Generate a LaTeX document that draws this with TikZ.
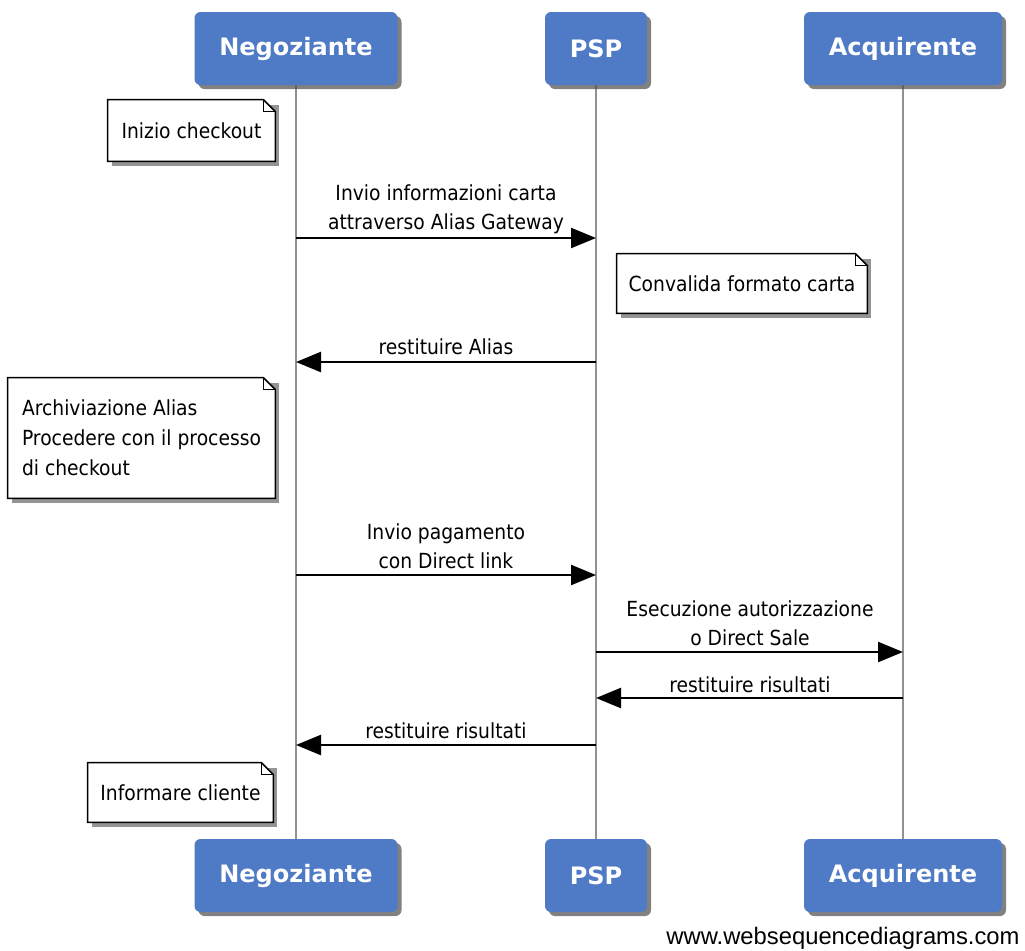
\documentclass[tikz,border=0pt]{standalone}
\usepackage{fontspec}
\setmainfont{DejaVu Sans}[FakeStretch=0.9]
\newfontfamily\headfont{DejaVu Sans}
\newfontfamily\wsdfont{Liberation Sans}
\usetikzlibrary{arrows.meta, shadows, backgrounds}
\definecolor{actorBlue}{RGB}{79,122,198}
\definecolor{lifeGray}{RGB}{145,145,145}
\tikzstyle{fActor} = [rectangle, rounded corners=3pt, minimum height=36.5pt, fill=actorBlue, text=white, font=\headfont\bfseries\fontsize{12}{14}\selectfont, drop shadow={shadow xshift=2pt, shadow yshift=-2pt, opacity=0.7, fill=black!70}]
\tikzstyle{fNote} = [rectangle, font=\fontsize{10.4}{15}\selectfont, align=left, inner sep=0pt]
\tikzstyle{fLabel} = [font=\fontsize{10.4}{14.5}\selectfont, align=center, inner sep=0pt]
\tikzstyle{fMsg} = [line width=1.2pt, -{Triangle[length=12.5pt, width=10pt]}]
\tikzstyle{fLife} = [line width=1pt, draw=lifeGray]

\begin{document}
\begin{tikzpicture}[x=0.5pt, y=-0.5pt]
    \useasboundingbox (0,0) rectangle (1025,950);

    \node (hNeg) [fActor, minimum width=101.5pt] at (296,48.5) {Negoziante};
    \node (hPSP) [fActor, minimum width=51pt] at (596,48.5) {PSP};
    \node (hAcq) [fActor, minimum width=99pt] at (903,48.5) {Acquirente};
    \node (fNeg) [fActor, minimum width=101.5pt] at (296,875.5) {Negoziante};
    \node (fPSP) [fActor, minimum width=51pt] at (596,875.5) {PSP};
    \node (fAcq) [fActor, minimum width=99pt] at (903,875.5) {Acquirente};

    \node (nStart) [fNote, minimum width=83.5pt, minimum height=30.5pt] at (191.5,130.5) {Inizio checkout};
    \node (nCheck) [fNote, minimum width=125pt, minimum height=29.5pt] at (742,283.5) {Convalida formato carta};
    \node (nStore) [fNote, minimum width=133.5pt, minimum height=60pt] at (141.5,438) {Archiviazione Alias\\Procedere con il processo\\di checkout};
    \node (nInform) [fNote, minimum width=92.5pt, minimum height=29.5pt] at (180.5,792.5) {Informare cliente};

    \begin{scope}[on background layer]
        \draw [fLife] (hNeg) -- (fNeg);
        \draw [fLife] (hPSP) -- (fPSP);
        \draw [fLife] (hAcq) -- (fAcq);
        \foreach \n in {nStart, nCheck, nStore, nInform} {
            \fill [black!70, opacity=0.6] ([shift={(2pt,-2.5pt)}]\n.north west) -- ([shift={(2pt,-2.5pt)}]\n.north east) -- ([shift={(2pt,-2.5pt)}]\n.south east) -- ([shift={(2pt,-2.5pt)}]\n.south west) -- cycle;
            \draw [line width=0.75pt, fill=white] (\n.north west) -- ([xshift=-6pt]\n.north east) -- ([yshift=-6pt]\n.north east) -- (\n.south east) -- (\n.south west) -- cycle;
            \draw [line width=0.6pt] ([xshift=-6pt]\n.north east) |- ([yshift=-6pt]\n.north east);
        }
    \end{scope}

    \coordinate (r1) at (0,238);
    \coordinate (r2) at (0,362);
    \coordinate (r3) at (0,575);
    \coordinate (r4) at (0,652);
    \coordinate (r5) at (0,698);
    \coordinate (r6) at (0,745);

    \node (m1) [fLabel] at (446,209) {Invio informazioni carta\\attraverso Alias Gateway};
    \node (m2) [fLabel] at (446,347) {restituire Alias};
    \node (m3) [fLabel] at (446,546) {Invio pagamento\\con Direct link};
    \node (m4) [fLabel] at (750,623) {Esecuzione autorizzazione\\o Direct Sale};
    \node (m5) [fLabel] at (750,685) {restituire risultati};
    \node (m6) [fLabel] at (446,731) {restituire risultati};

    \draw [fMsg] (hNeg |- r1) -- (hPSP |- r1);
    \draw [fMsg] (hPSP |- r2) -- (hNeg |- r2);
    \draw [fMsg] (hNeg |- r3) -- (hPSP |- r3);
    \draw [fMsg] (hPSP |- r4) -- (hAcq |- r4);
    \draw [fMsg] (hAcq |- r5) -- (hPSP |- r5);
    \draw [fMsg] (hPSP |- r6) -- (hNeg |- r6);

    \node (wsd) [font=\wsdfont\fontsize{11.9}{13}\selectfont, anchor=east, inner sep=0pt] at (1020,938) {www.websequencediagrams.com};
\end{tikzpicture}
\end{document}
